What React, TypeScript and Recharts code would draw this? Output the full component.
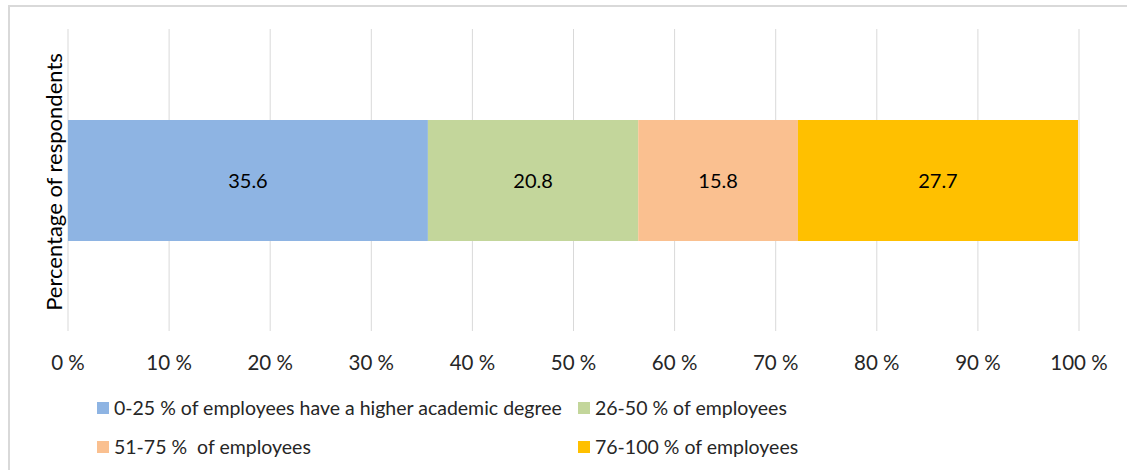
import {
  BarChart,
  Bar,
  XAxis,
  YAxis,
  CartesianGrid,
  Legend,
  LabelList,
} from 'recharts';

const categories = ['Percentage of respondents'];
const seriesNames = [
  '0-25 % of employees have a higher academic degree',
  '26-50 % of employees',
  '51-75 %  of employees',
  '76-100 % of employees',
];
const seriesValues = [35.6, 20.8, 15.8, 27.7];
const seriesColors = ['#8EB4E3', '#C3D69B', '#FAC090', '#FFC000'];
const xTicks = [0, 10, 20, 30, 40, 50, 60, 70, 80, 90, 100];

const data = categories.map((name) => {
  const row: Record<string, string | number> = { name };
  seriesValues.forEach((v, i) => {
    row[`s${i}`] = v;
  });
  return row;
});

const FONT = 'Lato, "Liberation Sans", sans-serif';

function LegendBox() {
  // two columns, two rows like the original spreadsheet legend
  const rows = [
    [0, 1],
    [2, 3],
  ];
  return (
    <div style={{ fontFamily: FONT, fontSize: 19.5, color: '#262626', paddingTop: 18, height: 72 }}>
      {rows.map((r, ri) => (
        <div key={ri} style={{ position: 'relative', height: 20, marginBottom: ri === 0 ? 19 : 0 }}>
          {r.map((idx, ci) => (
            <div
              key={idx}
              style={{
                position: 'absolute',
                left: ci === 0 ? 97 : 578,
                top: 0,
                lineHeight: '20px',
                whiteSpace: 'pre',
                display: 'flex',
                alignItems: 'center',
              }}
            >
              <span
                style={{
                  display: 'inline-block',
                  width: 12,
                  height: 12,
                  background: seriesColors[idx],
                  marginRight: 5,
                }}
              />
              {seriesNames[idx]}
            </div>
          ))}
        </div>
      ))}
    </div>
  );
}

export default function App() {
  return (
    <div
      style={{
        position: 'absolute',
        left: 0,
        top: 0,
        width: 1127,
        height: 470,
        overflow: 'hidden',
        background: '#fff',
      }}
    >
      <div
        style={{
          position: 'absolute',
          left: 8,
          top: 5,
          width: 1140,
          height: 480,
          border: '2px solid #d9d9d9',
        }}
      />
      <BarChart
        width={1127}
        height={470}
        data={data}
        layout="vertical"
        margin={{ top: 29, right: 48, left: 0, bottom: 0 }}
        style={{ position: 'absolute', left: 0, top: 0 }}
      >
        <CartesianGrid horizontal={false} stroke="#d9d9d9" />
        <XAxis
          type="number"
          domain={[0, 100]}
          ticks={xTicks}
          tickFormatter={(v: number) => `${v} %`}
          axisLine={false}
          tickLine={false}
          tickMargin={18}
          height={49}
          tick={{ fontSize: 20.5, fill: '#262626', fontFamily: FONT }}
        />
        <YAxis
          type="category"
          dataKey="name"
          width={68}
          tick={false}
          axisLine={false}
          tickLine={false}
          label={{
            value: 'Percentage of respondents',
            angle: -90,
            position: 'center',
            dx: 20,
            dy: 2,
            style: { fontSize: 22, fill: '#000', fontFamily: FONT },
          }}
        />
        <Legend verticalAlign="bottom" content={<LegendBox />} />
        {seriesValues.map((_, i) => (
          <Bar
            key={i}
            dataKey={`s${i}`}
            name={seriesNames[i]}
            stackId="a"
            fill={seriesColors[i]}
            barSize={121}
            isAnimationActive={false}
          >
            <LabelList
              dataKey={`s${i}`}
              position="center"
              style={{ fontSize: 20, fill: '#000', fontFamily: FONT }}
            />
          </Bar>
        ))}
      </BarChart>
    </div>
  );
}
